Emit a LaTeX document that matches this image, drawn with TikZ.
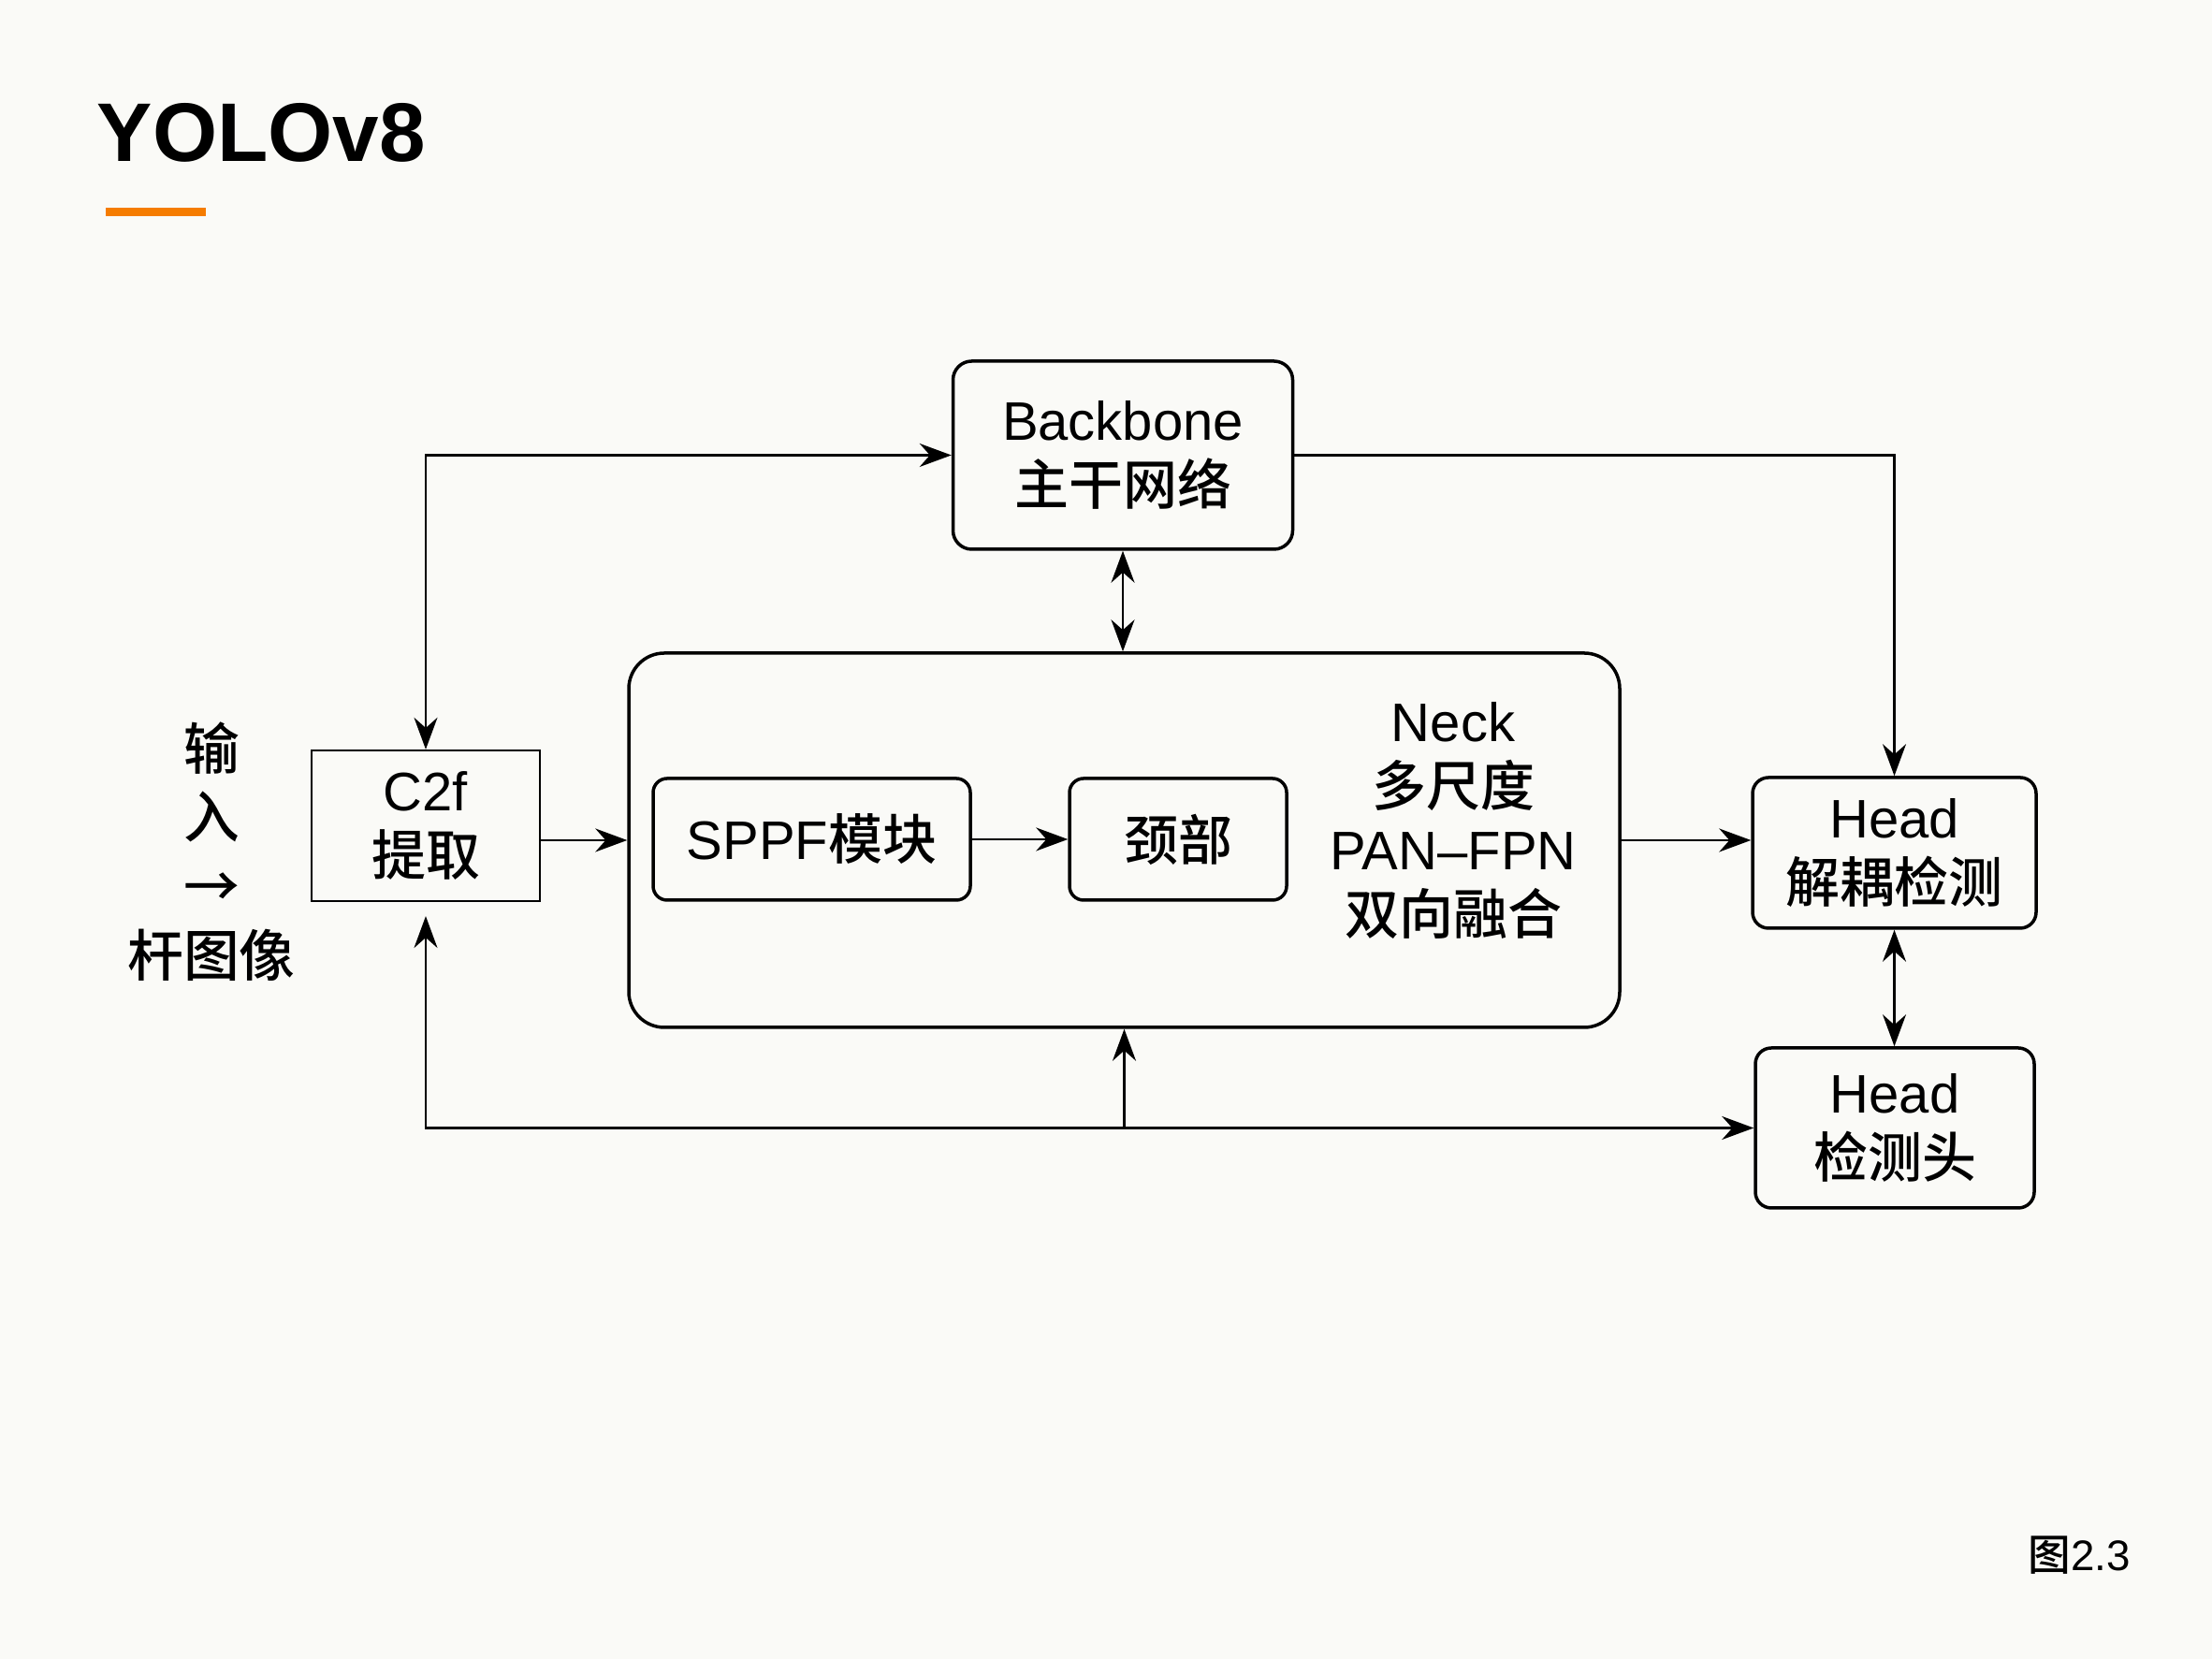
\documentclass[tikz,border=0pt]{standalone}
\usepackage{fontspec}
\setmainfont{Liberation Sans}
\newfontfamily\cjk{Noto Sans CJK SC}[UprightFont=* Medium]
\usetikzlibrary{arrows.meta}
\definecolor{paperbg}{RGB}{250,250,247}
\definecolor{barorange}{RGB}{245,124,0}
\newcommand{\zh}[1]{{\cjk #1}}

\begin{document}
\begin{tikzpicture}[
    boxfont/.style={font=\fontsize{16.5}{19.5}\selectfont},
    roundbox/.style={boxfont, draw, line width=0.035cm, rounded corners=0.2cm, align=center, inner sep=0pt},
    plainbox/.style={boxfont, draw, line width=0.022cm, align=center, inner sep=0pt},
    link/.style={line width=0.022cm, -{Stealth[length=0.34cm,width=0.25cm]}},
    dlink/.style={line width=0.022cm, {Stealth[length=0.34cm,width=0.25cm]}-{Stealth[length=0.34cm,width=0.25cm]}}
  ]
  % \clip (0,0) rectangle (23.64,17.73);
  \fill [paperbg] (0,0) rectangle (23.64,17.73);%
  \useasboundingbox (0,0) rectangle (23.64,17.73);%

  % Drawing title
  \node [anchor=base west, inner sep=0pt, font=\fontsize{25.3}{30}\selectfont\bfseries] (title) at (1.03,16.00) {YOLOv8};%
  \fill [barorange] (1.13,15.42) rectangle (2.20,15.51);%

  % Drawing input text
  \node [align=center, inner sep=0pt, font=\fontsize{17}{21}\selectfont\cjk] (input) at (2.26,8.63) {输\\入\\→\\杆图像};%

  % Drawing box C2f
  \node [plainbox, minimum width=2.44cm, minimum height=1.61cm] (c2f) at (4.55,8.905) {C2f\\\zh{提取}};%

  % Drawing box Backbone
  \node [roundbox, minimum width=3.63cm, minimum height=2.01cm] (backbone) at (12.00,12.865) {Backbone\\\zh{主干网络}};%

  % Drawing box Neck
  \node [roundbox, rounded corners=0.38cm, minimum width=10.59cm, minimum height=4.00cm] (neck) at (12.015,8.75) {};%
  \node [roundbox, rounded corners=0.15cm, minimum width=3.39cm, minimum height=1.30cm] (sppf) at (8.675,8.76) {SPPF\zh{模块}};%
  \node [roundbox, rounded corners=0.15cm, minimum width=2.32cm, minimum height=1.30cm] (neckpart) at (12.59,8.76) {\zh{颈部}};%
  \node [boxfont, align=center, inner sep=0pt] (necktxt) at (15.53,8.96) {Neck\\\zh{多尺度}\\PAN–FPN\\\zh{双向融合}};%

  % Drawing box Head
  \node [roundbox, rounded corners=0.17cm, minimum width=3.03cm, minimum height=1.61cm] (head1) at (20.245,8.615) {Head\\\zh{解耦检测}};%
  \node [roundbox, rounded corners=0.17cm, minimum width=2.98cm, minimum height=1.71cm] (head2) at (20.25,5.675) {Head\\\zh{检测头}};%

  % Drawing connectors
  \draw [dlink] (c2f.north) |- (backbone.west);%
  \draw [link] (backbone.east) -| (head1.north);%
  \draw [dlink] (backbone.south) -- (backbone.south |- neck.north);%
  \draw [link] (neck.west -| c2f.east) -- (neck.west);%
  \draw [link] (sppf.east) -- (neckpart.west);%
  \draw [link] (neck.east) -- (neck.east -| head1.west);%
  \draw [dlink] (head1.south) -- (head1.south |- head2.north);%
  \draw [dlink, shorten <=0.15cm] (c2f.south) |- (head2.west);%
  \draw [link] (neck.south |- head2.west) -- (neck.south);%

  % Marking figure number
  \node [inner sep=0pt, font=\fontsize{13}{15}\selectfont] (fignum) at (22.22,1.11) {\zh{图}2.3};%
\end{tikzpicture}
\end{document}
